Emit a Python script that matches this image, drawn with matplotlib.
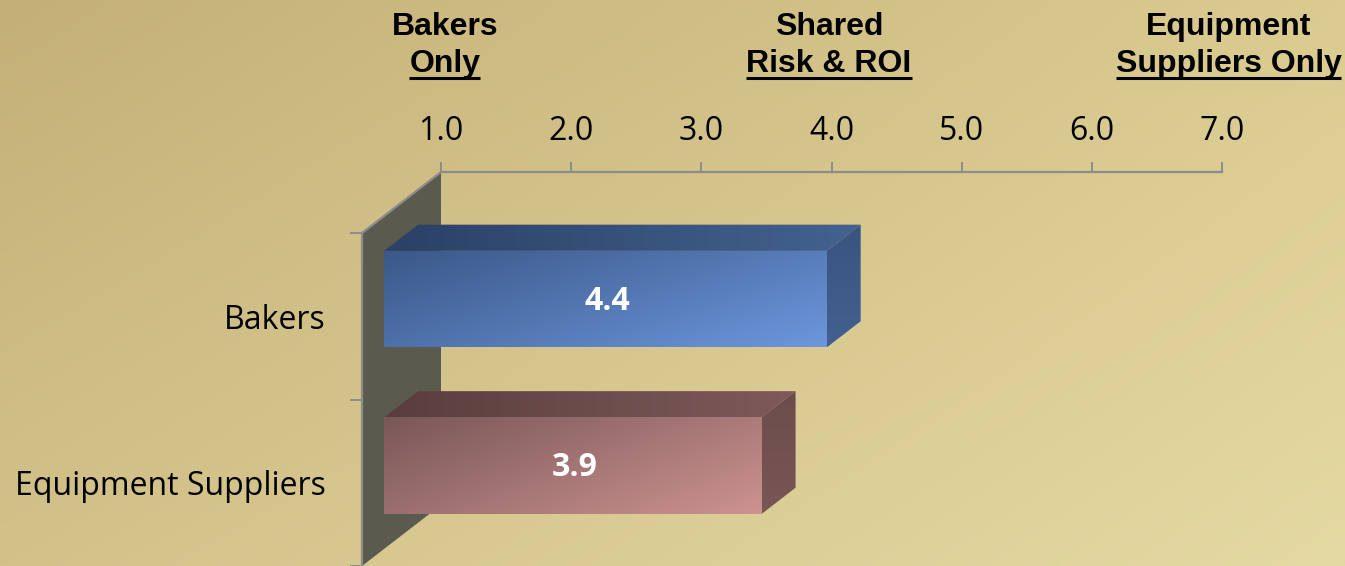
import numpy as np
import matplotlib
matplotlib.use("Agg")
import matplotlib.pyplot as plt
import matplotlib.transforms as mtransforms
from matplotlib.patches import Polygon
from matplotlib.colors import to_rgb

plt.rcParams['font.family'] = ['Open Sans', 'DejaVu Sans']

# survey results: who should carry the risk (1 = bakers only, 7 = suppliers only)
groups = ["Bakers", "Equipment Suppliers"]
scores = [4.4, 3.9]
scale_ticks = [1.0, 2.0, 3.0, 4.0, 5.0, 6.0, 7.0]
heading_top = ["Bakers", "Shared", "Equipment"]
heading_bottom = ["Only", "Risk & ROI", "Suppliers Only"]
heading_x = [1.03, 3.98, 7.05]

face_cols = [("#3b5888", "#6c96dc"), ("#7a5858", "#cc9290")]
top_cols = [("#2b4166", "#43628f"), ("#5a3d3e", "#7e5a5a")]
side_cols = [("#3a5480", "#42608f"), ("#6c4c4c", "#7a5656")]
grid_col = "#8c8c8c"

W, H = 1345, 566
fig = plt.figure(figsize=(W / 100, H / 100), dpi=100)

# full-figure axes in pixel units for the background and the 3d faces
bg = fig.add_axes([0, 0, 1, 1])
bg.set_axis_off()

def bilinear(tl, tr, bl, br, n=120):
    u = np.linspace(0, 1, n)
    cx, ry = np.meshgrid(u, u)
    tl, tr, bl, br = (np.array(to_rgb(c)) for c in (tl, tr, bl, br))
    img = ((1 - cx) * (1 - ry))[..., None] * tl + (cx * (1 - ry))[..., None] * tr \
        + ((1 - cx) * ry)[..., None] * bl + (cx * ry)[..., None] * br
    return img

bg.imshow(bilinear("#c4b077", "#dacb90", "#d2c28a", "#e5d9a3"),
          extent=(0, W, 0, H), origin="upper", aspect="auto",
          interpolation="bilinear", zorder=0)

# back plane of the chart: value axis along the top
ax = fig.add_axes([441 / W, 1 - 505 / H, (1222 - 441) / W, (505 - 172) / H])
ax.set_xlim(1, 7)
ax.set_ylim(len(groups), 0)
ax.patch.set_visible(False)
for s in ["left", "right", "bottom"]:
    ax.spines[s].set_visible(False)
ax.spines["top"].set_color(grid_col)
ax.spines["top"].set_linewidth(1.6)
ax.xaxis.tick_top()
ax.set_xticks(scale_ticks)
ax.set_xticklabels([f"{v:.1f}" for v in scale_ticks])
ax.tick_params(axis="x", length=7.2, width=1.4, color=grid_col, pad=10,
               labelsize=23)
ax.set_yticks([])

WALL = np.array([-79.0, -61.0])   # depth of the side wall in pixels
BAR_FRONT, BAR_BACK = 0.72, 0.29
BAR_H = 0.58

def proj(v, c, t):
    x, y = ax.transData.transform((v, c))
    return (x + t * WALL[0], y + t * WALL[1])

def shade(pts, c0, c1, z, wx=0.6, wy=0.4):
    pts = np.array(pts)
    patch = Polygon(pts, closed=True, facecolor="none", edgecolor="none")
    bg.add_patch(patch)
    x0, y0 = pts.min(axis=0)
    x1, y1 = pts.max(axis=0)
    u = np.linspace(0, 1, 64)
    cx, ry = np.meshgrid(u, u)
    t = (wx * cx + wy * ry) / (wx + wy)
    img = (1 - t)[..., None] * np.array(to_rgb(c0)) + t[..., None] * np.array(to_rgb(c1))
    im = bg.imshow(img, extent=(x0, x1, y0, y1), origin="upper", aspect="auto",
                   interpolation="bilinear", zorder=z)
    im.set_clip_path(patch)

# side wall
wall = [proj(1, 0, 0), proj(1, 0, 1), proj(1, len(groups), 1), proj(1, len(groups), 0)]
bg.add_patch(Polygon(wall, closed=True, facecolor="#5b5a4f", edgecolor="none", zorder=1))
a, b = proj(1, 0, 0), proj(1, 0, 1)
bg.plot([a[0], b[0]], [a[1], b[1]], color=grid_col, lw=1.6, zorder=2)

# bars as boxes
for i, (name, val) in enumerate(zip(groups, scores)):
    ct = i + 0.5 - BAR_H / 2
    cb = i + 0.5 + BAR_H / 2
    front = [proj(1, ct, BAR_FRONT), proj(val, ct, BAR_FRONT),
             proj(val, cb, BAR_FRONT), proj(1, cb, BAR_FRONT)]
    top = [proj(1, ct, BAR_FRONT), proj(val, ct, BAR_FRONT),
           proj(val, ct, BAR_BACK), proj(1, ct, BAR_BACK)]
    side = [proj(val, ct, BAR_FRONT), proj(val, ct, BAR_BACK),
            proj(val, cb, BAR_BACK), proj(val, cb, BAR_FRONT)]
    shade(top, top_cols[i][0], top_cols[i][1], 3, wx=1.0, wy=0.0)
    shade(side, side_cols[i][0], side_cols[i][1], 3, wx=0.0, wy=1.0)
    shade(front, face_cols[i][0], face_cols[i][1], 4)
    fx = (front[0][0] + front[1][0]) / 2
    fy = (front[0][1] + front[2][1]) / 2
    bg.text(fx + 2, fy - 2, f"{val:.1f}", color="white", fontsize=23, fontweight="bold",
            ha="center", va="center", zorder=6)

# front edge of the wall carries the category axis
pos = ax.get_position()
fax = fig.add_axes([pos.x0 + WALL[0] / W, pos.y0 + WALL[1] / H, 0.02, pos.height])
fax.set_xlim(0, 1)
fax.set_ylim(len(groups), 0)
fax.patch.set_visible(False)
for s in ["top", "right", "bottom"]:
    fax.spines[s].set_visible(False)
fax.spines["left"].set_color(grid_col)
fax.spines["left"].set_linewidth(1.6)
fax.set_xticks([])
fax.set_yticks(range(len(groups) + 1))
fax.set_yticklabels([])
fax.set_yticks([i + 0.5 for i in range(len(groups))], minor=True)
fax.set_yticklabels(groups, minor=True)
fax.tick_params(axis="y", which="major", length=8.6, width=1.4, color=grid_col)
fax.tick_params(axis="y", which="minor", length=0, pad=26, labelsize=23)

# headings above the scale
hdr = mtransforms.blended_transform_factory(ax.transData, bg.transData)
under = []
for xv, l1, l2 in zip(heading_x, heading_top, heading_bottom):
    bg.text(xv, H - 35, l1, transform=hdr, ha="center", va="baseline",
            fontsize=23, fontweight="bold", family="Liberation Sans")
    under.append(bg.text(xv, H - 72, l2, transform=hdr, ha="center", va="baseline",
                         fontsize=23, fontweight="bold", family="Liberation Sans"))

bg.set_xlim(0, W)
bg.set_ylim(0, H)

fig.canvas.draw()
r = fig.canvas.get_renderer()
for t in under:
    bb = t.get_window_extent(r)
    bg.plot([bb.x0, bb.x1], [H - 78, H - 78], color="black", lw=2.2,
            solid_capstyle="butt", zorder=6)

bg.set_xlim(0, W)
bg.set_ylim(0, H)
fig.savefig("out.png", dpi=100)
